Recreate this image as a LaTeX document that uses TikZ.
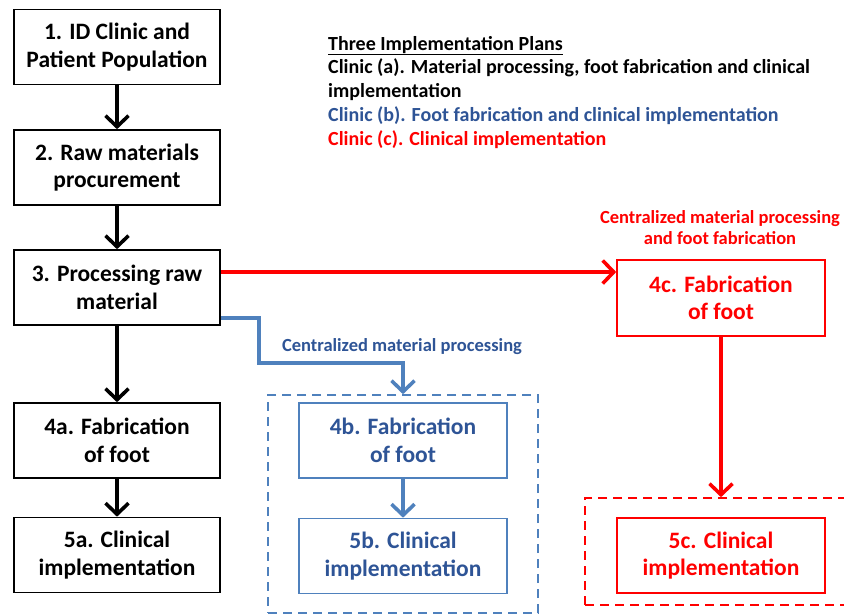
\documentclass[tikz,border=0pt]{standalone}
\usepackage{fontspec}
\setmainfont{Carlito}
\usepackage{xcolor}
\usetikzlibrary{arrows.meta}

\definecolor{planblue}{RGB}{79,129,189}
\definecolor{plannavy}{RGB}{46,84,150}
\definecolor{planred}{RGB}{255,0,0}

\tikzset{
  stepbox/.style={draw, line width=1.6pt, minimum width=206pt, minimum height=75pt,
    inner sep=0pt, align=center, font=\fontsize{23.5}{27.5}\selectfont\bfseries},
  flow/.style={line width=3.6pt, -{Straight Barb[length=11pt,width=23pt]}},
  grouping/.style={draw, dashed, line width=1.6pt, dash pattern=on 9pt off 6pt, inner sep=0pt},
  note/.style={font=\fontsize{18.5}{21}\selectfont\bfseries, align=center}
}

\begin{document}
\begin{tikzpicture}[x=1pt, y=-1pt]
\useasboundingbox[fill=white] (0,0) rectangle (844,614);

% plan (a)
\node[stepbox] (clinic) at (117,47) {1. ID Clinic and\\Patient Population};
\node[stepbox] (procure) at (117,167.5) {2. Raw materials\\procurement};
\node[stepbox] (process) at (117,287.5) {3. Processing raw\\material};
\node[stepbox] (fabA) at (117,440.5) {4a. Fabrication\\of foot};
\node[stepbox] (clinA) at (117,555) {5a. Clinical\\implementation};
\draw[flow] (clinic) -- (procure);
\draw[flow] (procure) -- (process);
\draw[flow] (process) -- (fabA);
\draw[flow] (fabA) -- (clinA);

% plan (b)
\node[grouping, planblue, minimum width=270pt, minimum height=218pt] (groupB) at (403,504) {};
\node[stepbox, draw=planblue, text=plannavy, minimum width=208pt] (fabB) at (403,440.5) {4b. Fabrication\\of foot};
\node[stepbox, draw=planblue, text=plannavy, minimum width=208pt] (clinB) at (403,556) {5b. Clinical\\implementation};
\node[note, plannavy] (noteB) at (402,347) {Centralized material processing};
\coordinate (bendB) at (259,363);
\draw[flow, planblue] ([yshift=-30.5pt]process.east) -| (bendB) -| (groupB.north);
\draw[flow, planblue] (fabB) -- (clinB);

% plan (c), its frame runs past the right edge
\node[grouping, planred, minimum width=400pt, minimum height=107pt] (groupC) at (785,551.5) {};
\node[stepbox, draw=planred, text=planred, minimum width=208pt, minimum height=76pt] (fabC) at (721,298) {4c. Fabrication\\of foot};
\node[stepbox, draw=planred, text=planred, minimum width=208pt] (clinC) at (721,555.5) {5c. Clinical\\implementation};
\node[note, planred] (noteC) at (720,227.5) {Centralized material processing\\and foot fabrication};
\coordinate (startC) at ([yshift=15.5pt]process.east);
\draw[flow, planred] (startC) -- (startC -| fabC.west);
\draw[flow, planred] (fabC.south) -- (fabC.south |- groupC.north);

% legend
\node[anchor=base west, align=left, inner sep=0pt,
  font=\fontsize{20}{23.75}\selectfont\bfseries] (legend) at (328,145) {%
  \underline{Three Implementation Plans}\\
  Clinic (a). Material processing, foot fabrication and clinical\\
  implementation\\
  \textcolor{plannavy}{Clinic (b). Foot fabrication and clinical implementation}\\
  \textcolor{planred}{Clinic (c). Clinical implementation}};
\end{tikzpicture}
\end{document}
